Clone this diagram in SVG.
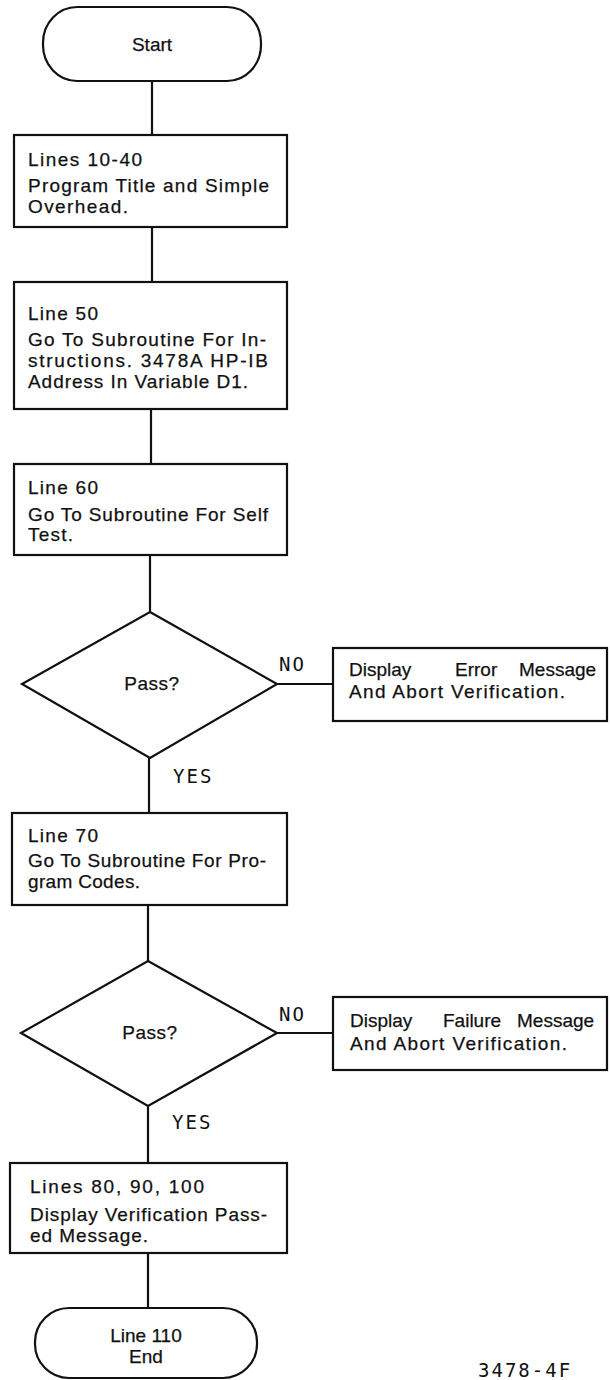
<svg xmlns="http://www.w3.org/2000/svg" width="610" height="1380" viewBox="0 0 610 1380">
<style>
.shape{fill:#fff;stroke:#111;stroke-width:2.2}
.conn line{stroke:#111;stroke-width:2.2}
.t{font-family:"Liberation Sans",Arial,sans-serif;font-size:19px;fill:#111;stroke:#111;stroke-width:0.25}
.c{text-anchor:middle}
.lbl{font-family:"DejaVu Sans Mono","Liberation Mono",monospace;font-size:19px;fill:#111;letter-spacing:2px}
</style>
<rect width="610" height="1380" fill="#fff"/>
<g id="connectors" class="conn">
<line x1="152" y1="81" x2="152" y2="135"/>
<line x1="152" y1="227" x2="152" y2="282"/>
<line x1="151" y1="409" x2="151" y2="464"/>
<line x1="150" y1="555" x2="150" y2="612"/>
<line x1="277" y1="684" x2="333" y2="684"/>
<line x1="149" y1="758" x2="149" y2="813"/>
<line x1="148" y1="905" x2="148" y2="961"/>
<line x1="277" y1="1033" x2="333" y2="1033"/>
<line x1="148" y1="1106" x2="148" y2="1163"/>
<line x1="148" y1="1253" x2="148" y2="1308"/>
</g>
<g id="start">
<rect class="shape" x="43" y="7" width="218" height="74" rx="34" ry="36"/>
<text class="t c" x="152" y="51">Start</text>
</g>
<g id="box1">
<rect class="shape" x="14" y="135" width="273" height="92"/>
<text class="t" x="28" y="166" textLength="114" lengthAdjust="spacing">Lines 10-40</text>
<text class="t" x="28" y="192" textLength="241" lengthAdjust="spacing">Program Title and Simple</text>
<text class="t" x="28" y="213" textLength="100" lengthAdjust="spacing">Overhead.</text>
</g>
<g id="box2">
<rect class="shape" x="14" y="282" width="273" height="127"/>
<text class="t" x="28" y="320" textLength="70" lengthAdjust="spacing">Line 50</text>
<text class="t" x="28" y="346" textLength="238" lengthAdjust="spacing">Go To Subroutine For In-</text>
<text class="t" x="28" y="367" textLength="240" lengthAdjust="spacing">structions. 3478A HP-IB</text>
<text class="t" x="28" y="388" textLength="220" lengthAdjust="spacing">Address In Variable D1.</text>
</g>
<g id="box3">
<rect class="shape" x="14" y="464" width="273" height="91"/>
<text class="t" x="28" y="494" textLength="70" lengthAdjust="spacing">Line 60</text>
<text class="t" x="28" y="521" textLength="240" lengthAdjust="spacing">Go To Subroutine For Self</text>
<text class="t" x="28" y="541" textLength="45" lengthAdjust="spacing">Test.</text>
</g>
<g id="decision1">
<polygon class="shape" points="150,612 277,684 150,758 22,684"/>
<text class="t c" x="152" y="690" letter-spacing="0.5">Pass?</text>
</g>
<g id="error">
<rect class="shape" x="333" y="648" width="274" height="73"/>
<text class="t" y="676"><tspan x="349">Display</tspan><tspan x="455">Error</tspan><tspan x="519">Message</tspan></text>
<text class="t" x="349" y="698" textLength="216" lengthAdjust="spacing">And Abort Verification.</text>
</g>
<g id="box4">
<rect class="shape" x="12" y="813" width="275" height="92"/>
<text class="t" x="28" y="842" textLength="70" lengthAdjust="spacing">Line 70</text>
<text class="t" x="28" y="867" textLength="238" lengthAdjust="spacing">Go To Subroutine For Pro-</text>
<text class="t" x="28" y="888" textLength="112" lengthAdjust="spacing">gram Codes.</text>
</g>
<g id="decision2">
<polygon class="shape" points="148,961 277,1033 148,1106 21,1033"/>
<text class="t c" x="150" y="1039" letter-spacing="0.5">Pass?</text>
</g>
<g id="failure">
<rect class="shape" x="333" y="997" width="274" height="73"/>
<text class="t" y="1027"><tspan x="350">Display</tspan><tspan x="443">Failure</tspan><tspan x="517">Message</tspan></text>
<text class="t" x="350" y="1050" textLength="217" lengthAdjust="spacing">And Abort Verification.</text>
</g>
<g id="box5">
<rect class="shape" x="10" y="1163" width="277" height="90"/>
<text class="t" x="30" y="1193" textLength="174" lengthAdjust="spacing">Lines 80, 90, 100</text>
<text class="t" x="30" y="1221" textLength="237" lengthAdjust="spacing">Display Verification Pass-</text>
<text class="t" x="30" y="1242" textLength="118" lengthAdjust="spacing">ed Message.</text>
</g>
<g id="end">
<rect class="shape" x="35" y="1308" width="222" height="70" rx="34" ry="34"/>
<text class="t c" x="146" y="1342">Line 110</text>
<text class="t c" x="146" y="1363">End</text>
</g>
<g id="labels">
<text class="lbl" x="279" y="671">NO</text>
<text class="lbl" x="173" y="783">YES</text>
<text class="lbl" x="279" y="1021">NO</text>
<text class="lbl" x="172" y="1129">YES</text>
<text class="lbl" x="478" y="1377" letter-spacing="2.5">3478-4F</text>
</g>
</svg>
